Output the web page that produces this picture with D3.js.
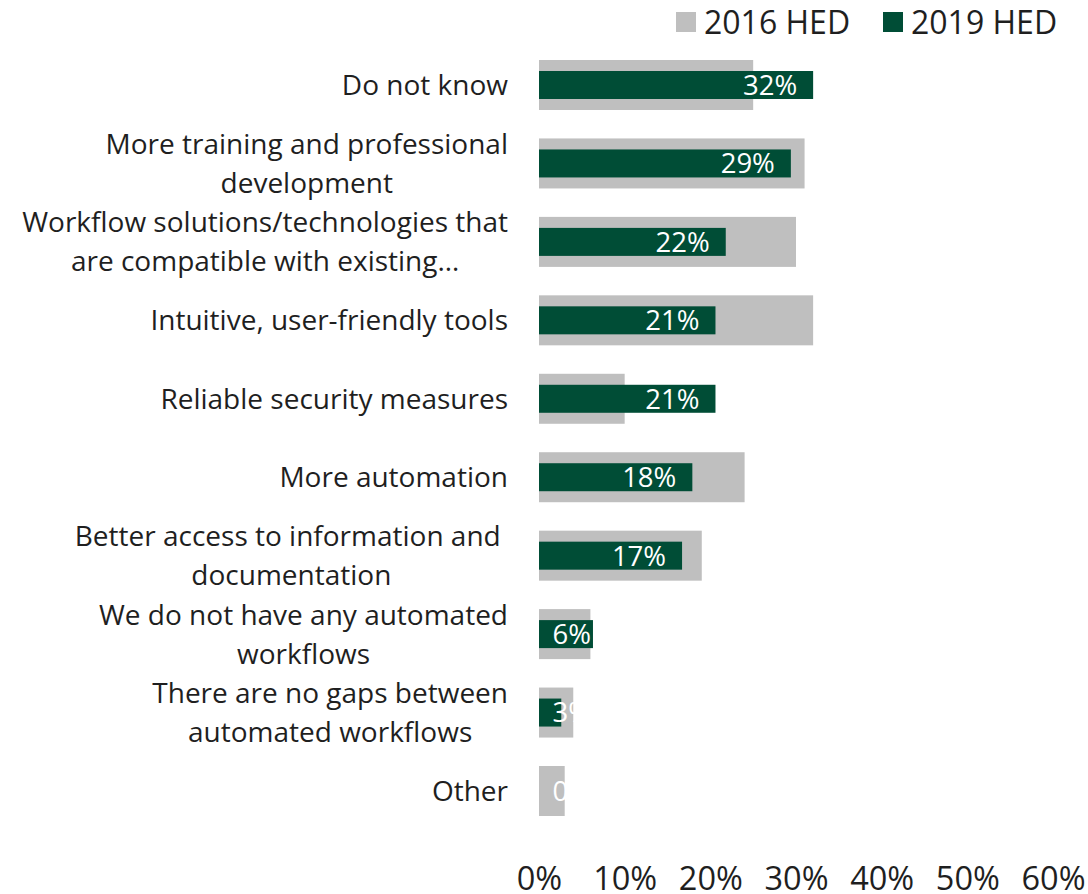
<!DOCTYPE html>
<html><head><meta charset="utf-8">
<script src="https://cdn.jsdelivr.net/npm/d3@7/dist/d3.min.js"></script>
<style>html,body{margin:0;padding:0;background:#fff;}svg{display:block;}</style>
</head><body>
<svg id="chart" width="1088" height="894"></svg>
<script>
const categories = [
  ["Do not know"],
  ["More training and professional", "development"],
  ["Workflow solutions/technologies that", "are compatible with existing…"],
  ["Intuitive, user-friendly tools"],
  ["Reliable security measures"],
  ["More automation"],
  ["Better access to information and ", "documentation"],
  ["We do not have any automated", "workflows"],
  ["There are no gaps between", "automated workflows"],
  ["Other"]
];
const series2016 = [25, 31, 30, 32, 10, 24, 19, 6, 4, 3];
const series2019 = [32, 29.4, 21.8, 20.6, 20.6, 17.9, 16.7, 6.3, 2.6, 0];
const tickValues = [0, 10, 20, 30, 40, 50, 60];
const seriesNames = ["2016 HED", "2019 HED"];
const colors = ["#BFBFBF", "#004D36"];

const svg = d3.select("#chart");
const font = "'Open Sans', sans-serif";
const textColor = "#1f1f1f";
const keys = categories.map((c, i) => i);

const x = d3.scaleLinear().domain([0, 60]).range([539, 1053]);
const y = d3.scalePoint().domain(keys).range([85, 791]);

// gray bars
svg.append("g").selectAll("rect").data(series2016).join("rect")
  .attr("x", x(0)).attr("y", (d, i) => y(i) - 25)
  .attr("width", d => x(d) - x(0)).attr("height", 50)
  .attr("fill", colors[0]);

// green bars
svg.append("g").selectAll("rect").data(series2019).join("rect")
  .attr("x", x(0)).attr("y", (d, i) => y(i) - 14)
  .attr("width", d => x(d) - x(0)).attr("height", 28)
  .attr("fill", colors[1]);

// data labels (white)
svg.append("g").selectAll("text").data(series2019).join("text")
  .attr("x", d => Math.max(x(d) - 16, x(0) + 52))
  .attr("y", (d, i) => y(i))
  .attr("dy", "0.36em")
  .attr("text-anchor", "end")
  .attr("font-family", font).attr("font-size", 27.5)
  .attr("fill", "#fff")
  .text(d => Math.round(d) + "%");

// category labels
const labelRight = 508;
const catG = svg.append("g");
categories.forEach((lines, i) => {
  const t = catG.append("text")
    .attr("font-family", font).attr("font-size", 28)
    .attr("fill", textColor).attr("text-anchor", "middle")
    .attr("xml:space", "preserve").style("white-space", "pre");
  const n = lines.length;
  lines.forEach((ln, j) => {
    t.append("tspan").attr("y", y(i) + (j - (n - 1) / 2) * 39).attr("dy", "0.36em").text(ln);
  });
  let w = 0;
  t.selectAll("tspan").each(function(){ w = Math.max(w, this.getComputedTextLength()); });
  t.selectAll("tspan").attr("x", labelRight - w / 2);
});

// x axis tick labels
const axis = d3.axisBottom(x).tickValues(tickValues).tickFormat(d => d + "%").tickSize(0).tickPadding(0);
const ax = svg.append("g").attr("transform", "translate(0,867)").call(axis);
ax.select(".domain").remove();
ax.selectAll("text").attr("font-family", font).attr("font-size", 32.5).attr("fill", textColor).attr("dy", "0.71em");

// legend
const legend = [
  { name: seriesNames[0], color: colors[0], x: 676 },
  { name: seriesNames[1], color: colors[1], x: 883 }
];
const lg = svg.append("g");
legend.forEach(l => {
  lg.append("rect").attr("x", l.x).attr("y", 12).attr("width", 20).attr("height", 20).attr("fill", l.color);
  lg.append("text").attr("x", l.x + 28).attr("y", 22).attr("dy", "0.36em")
    .attr("font-family", font).attr("font-size", 32).attr("fill", textColor).text(l.name);
});
</script>
</body></html>
